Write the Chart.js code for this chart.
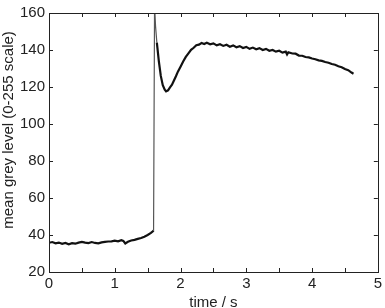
<!DOCTYPE html>
<html>
<head>
<meta charset="utf-8">
<script src="https://cdn.jsdelivr.net/npm/chart.js@4"></script>
<style>
html,body{margin:0;padding:0;overflow:hidden;background:#fff;width:385px;height:308px;}
canvas{display:block;}
</style>
</head>
<body>
<canvas id="c" width="385" height="312"></canvas>
<script>
const times = [
  0.00,0.05,0.10,0.15,0.20,0.25,0.30,0.35,0.40,0.45,0.50,0.55,0.60,0.65,0.70,0.75,0.80,0.85,0.90,0.95,
  1.00,1.05,1.10,1.13,1.16,1.20,1.25,1.30,1.35,1.40,1.45,1.50,1.55,1.58,1.59,
  1.605,1.62,1.64,1.67,1.70,1.73,1.76,1.78,1.81,1.84,1.87,1.90,1.93,1.96,2.00,2.04,2.08,2.12,2.16,2.20,2.24,2.28,2.32,2.36,2.40,
  2.45,2.50,2.55,2.60,2.65,2.70,2.75,2.80,2.85,2.90,2.95,3.00,3.05,3.10,3.15,3.20,3.25,3.30,3.35,3.40,
  3.45,3.50,3.55,3.60,3.62,3.64,3.70,3.75,3.80,3.85,3.90,3.95,4.00,4.05,4.10,4.15,4.20,4.25,4.30,4.35,
  4.40,4.45,4.50,4.55,4.60,4.63
];
const greyLevels = [
  35.8,36.2,35.5,35.9,35.2,35.7,35.0,35.6,35.3,35.9,36.3,35.9,35.6,36.2,35.7,35.5,36.0,36.3,36.5,36.6,
  36.9,36.6,37.2,36.8,35.4,36.3,37.0,37.4,37.9,38.4,39.1,40.0,41.1,42.0,42.5,
  164,153,144,134,126,121,118.5,117.6,118.2,119.8,121.2,123.5,125.8,128.3,131,133.8,136.3,138.2,140.1,141.2,142.6,142.9,143.8,143.2,143.9,
  143.1,143.6,142.5,143.1,142.2,142.8,141.8,142.5,141.5,142.1,141.1,141.7,140.6,141.3,140.4,141.0,140.0,140.6,139.6,140.0,
  139.1,139.6,138.6,139.1,137.6,138.8,138.1,138.0,137.0,136.9,136.2,136.0,135.4,135.0,134.4,134.1,133.5,133.1,132.4,132.0,
  131.2,130.7,129.7,129.1,127.8,127.2
];
const xTickLabels = ['0','1','2','3','4','5'];
const yTickValues = [20,40,60,80,100,120,140,160];

const points = times.map((t,i)=>({x:t,y:greyLevels[i]}));
const FONT = {family:'"Liberation Sans", Arial, sans-serif', size:15};
const INK = '#222';

const frameTicks = {
  id:'frameTicks',
  afterDraw(chart){
    const {ctx, chartArea:a, scales:{x,y}} = chart;
    ctx.save();
    ctx.strokeStyle = INK;
    ctx.lineWidth = 1;
    ctx.strokeRect(Math.round(a.left)+0.5, Math.round(a.top)+0.5, Math.round(a.right-a.left), Math.round(a.bottom-a.top));
    const L = 4;
    ctx.beginPath();
    x.ticks.forEach(tk=>{
      const px = Math.round(x.getPixelForValue(tk.value))+0.5;
      ctx.moveTo(px,a.bottom); ctx.lineTo(px,a.bottom-L);
      ctx.moveTo(px,a.top); ctx.lineTo(px,a.top+L);
    });
    y.ticks.forEach(tk=>{
      const py = Math.round(y.getPixelForValue(tk.value))+0.5;
      ctx.moveTo(a.left,py); ctx.lineTo(a.left+L,py);
      ctx.moveTo(a.right,py); ctx.lineTo(a.right-L,py);
    });
    ctx.stroke();
    ctx.restore();
  }
};

const isSpike = ctx => ctx.p0.parsed.x >= 1.585 && ctx.p1.parsed.x <= 1.665;

new Chart(document.getElementById('c'), {
  type:'line',
  data:{datasets:[{
    data:points,
    borderColor:'#111',
    borderWidth:2.2,
    pointRadius:0,
    tension:0,
    segment:{
      borderColor: ctx => isSpike(ctx) ? '#555' : undefined,
      borderWidth: ctx => isSpike(ctx) ? 1.2 : undefined
    }
  }]},
  options:{
    responsive:false,
    animation:false,
    layout:{padding:{left:0,right:5,top:11,bottom:0}},
    plugins:{legend:{display:false},tooltip:{enabled:false}},
    scales:{
      x:{
        type:'linear', min:0, max:5,
        grid:{display:false, drawTicks:false},
        border:{display:false},
        ticks:{stepSize:0.5, padding:3, color:INK, font:FONT, maxRotation:0, autoSkip:false,
          callback:(v)=> Number.isInteger(v) ? xTickLabels[v] : ''},
        title:{display:true, text:'time / s', color:INK, font:FONT, padding:0},
        afterFit:(s)=>{ s.height = 40; }
      },
      y:{
        type:'linear', min:yTickValues[0], max:yTickValues[yTickValues.length-1],
        grid:{display:false, drawTicks:false},
        border:{display:false},
        ticks:{stepSize:20, padding:4, color:INK, font:FONT},
        title:{display:true, text:'\u00A0\u00A0\u00A0\u00A0\u00A0\u00A0mean grey level (0-255 scale)', color:INK, font:FONT, padding:0},
        afterFit:(s)=>{ s.width = 49; }
      }
    }
  },
  plugins:[frameTicks]
});
</script>
</body>
</html>
